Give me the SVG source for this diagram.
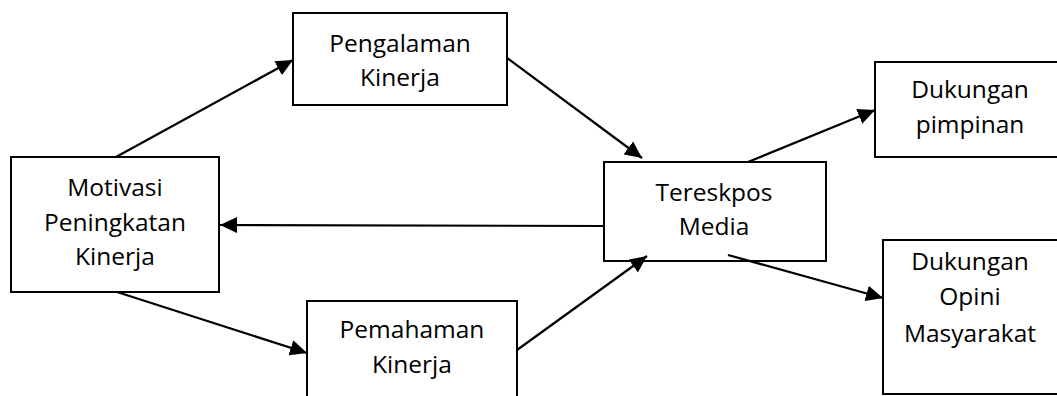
<svg xmlns="http://www.w3.org/2000/svg" width="1057" height="396" viewBox="0 0 1057 396">
<style>
.box{fill:#fff;stroke:#000;stroke-width:2}
.t{font-family:"Open Sans","Liberation Sans",sans-serif;font-size:24.5px;fill:#000;text-anchor:middle}
.c{stroke:#000;stroke-width:2.2;fill:none;marker-end:url(#ah)}
</style>
<defs>
<marker id="ah" markerUnits="userSpaceOnUse" markerWidth="18" markerHeight="16" refX="17" refY="8" orient="auto">
<path d="M0,0 L17,8 L0,16 z" fill="#000"/>
</marker>
</defs>
<rect width="1057" height="396" fill="#fff"/>
<g id="motivasi">
<rect class="box" x="11" y="157" width="208" height="135"/>
<text class="t" x="115" y="196">Motivasi</text>
<text class="t" x="115" y="231">Peningkatan</text>
<text class="t" x="115" y="265">Kinerja</text>
</g>
<g id="pengalaman">
<rect class="box" x="293" y="13" width="214" height="92"/>
<text class="t" x="400" y="52">Pengalaman</text>
<text class="t" x="400" y="86">Kinerja</text>
</g>
<g id="tereskpos">
<rect class="box" x="604" y="162" width="222" height="99"/>
<text class="t" x="714" y="201">Tereskpos</text>
<text class="t" x="714" y="235">Media</text>
</g>
<g id="pimpinan">
<rect class="box" x="875" y="62" width="200" height="95"/>
<text class="t" x="970" y="98">Dukungan</text>
<text class="t" x="970" y="133">pimpinan</text>
</g>
<g id="opini">
<rect class="box" x="883" y="240" width="190" height="154"/>
<text class="t" x="970" y="270">Dukungan</text>
<text class="t" x="970" y="305">Opini</text>
<text class="t" x="970" y="342">Masyarakat</text>
</g>
<g id="pemahaman">
<rect class="box" x="307" y="301" width="210" height="110"/>
<text class="t" x="412" y="338">Pemahaman</text>
<text class="t" x="412" y="373">Kinerja</text>
</g>
<g id="connectors">
<line class="c" x1="116" y1="157" x2="293" y2="60"/>
<line class="c" x1="507" y1="58" x2="642" y2="158"/>
<line class="c" x1="604" y1="226" x2="220" y2="225"/>
<line class="c" x1="117" y1="292" x2="307" y2="353"/>
<line class="c" x1="517" y1="350" x2="647" y2="256"/>
<line class="c" x1="748" y1="162" x2="875" y2="110"/>
<line class="c" x1="728" y1="255" x2="883" y2="298"/>
</g>
</svg>
